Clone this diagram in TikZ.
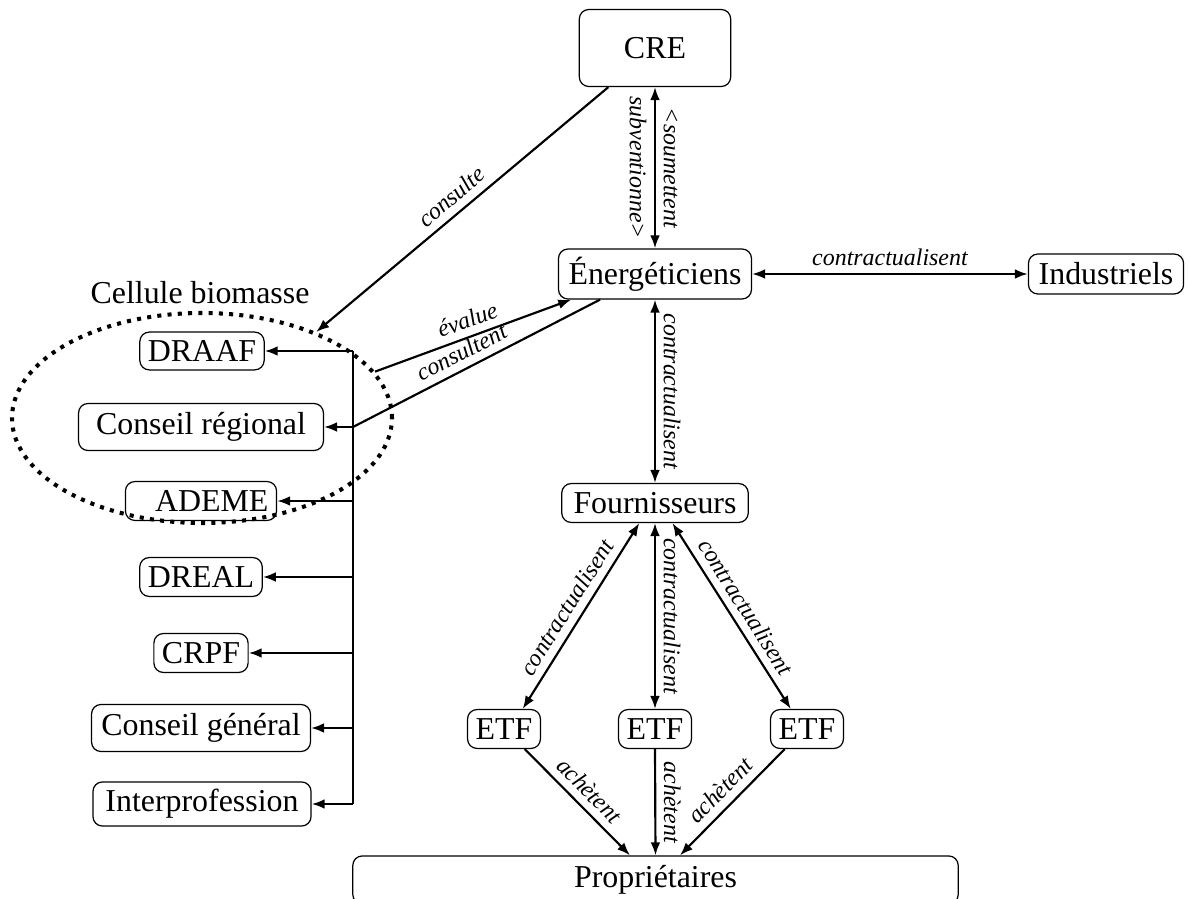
\documentclass[tikz,border=0pt]{standalone}
\usepackage{fontspec}
\setmainfont{Liberation Serif}[Scale=1.18]
\usetikzlibrary{shapes.geometric,calc,arrows.meta}
\tikzset{
  box/.style={draw, rounded corners=3.5pt, inner xsep=3pt, inner ysep=2pt, minimum height=14.4pt, line width=0.45pt},
  lab/.style={font=\fontsize{7.5}{9}\selectfont\itshape, inner sep=2.8pt},
  conn/.style={line width=0.8pt},
  tip/.style={>={Latex[length=4.8pt,width=3.6pt]}},
  dots/.style={draw, ellipse, line width=1.5pt, dash pattern=on 1.5pt off 2.3pt}
}
\begin{document}
\begin{tikzpicture}[x=0.37pt, y=-0.37pt, tip]
\useasboundingbox (0,0) rectangle (1189,899);
% main column
\node[box, minimum width=56pt, minimum height=28.5pt] (cre) at (655,48) {CRE};
\node[box, minimum width=71.4pt, minimum height=18.5pt] (ener) at (655,274) {Énergéticiens};
\node[box, minimum width=57.4pt, minimum height=14.8pt] (ind) at (1106,274) {Industriels};
\node[box, minimum width=69pt] (four) at (655,503) {Fournisseurs};
\node[box, minimum width=26.6pt, minimum height=14.4pt] (etf1) at (504,729) {ETF};
\node[box, minimum width=26.6pt, minimum height=14.4pt] (etf2) at (655,729) {ETF};
\node[box, minimum width=26.6pt, minimum height=14.4pt] (etf3) at (807,729) {ETF};
\node[box, minimum width=224pt, minimum height=17.8pt] (prop) at (655.5,880) {Propriétaires};
% left column
\node (celltitle) at (200,293) {Cellule biomasse};
\node[dots, minimum width=140.6pt, minimum height=77.7pt] (cell) at (202,418) {};
\node[box, minimum width=44.4pt, minimum height=14pt] (draaf) at (202,351) {DRAAF};
\node[box, minimum width=90.6pt, minimum height=17.4pt] (creg) at (201,427) {Conseil régional};
\node[box, text width=49.9pt, align=right, minimum height=14.4pt] (ademe) at (201,501) {ADEME};
\node[box, minimum width=43.7pt] (dreal) at (201,577) {DREAL};
\node[box, minimum width=34.8pt] (crpf) at (201,653) {CRPF};
\node[box, minimum width=81pt, minimum height=17.4pt] (cgen) at (201,728) {Conseil général};
\node[box, minimum width=80.7pt, minimum height=16.3pt] (interp) at (202,804) {Interprofession};
% bus
\coordinate (bus) at (353,0);
\draw[conn] (draaf.east -| bus) -- (interp.east -| bus);
\foreach \n in {draaf,creg,ademe,dreal,crpf,cgen,interp}
  \draw[conn,->] (\n.east -| bus) -- (\n.east);
% connectors
\draw[conn,->] (cre.220) -- node[lab, sloped, above] {consulte} (cell.37);
\draw[conn,->] (cell.15) -- node[lab, sloped, above] {évalue} (ener.197);
\draw[conn] (creg.east -| bus) -- node[lab, sloped, above, pos=0.47] {consultent} (ener.205);
\draw[conn,<->] (cre.south) --
  node[lab, rotate=-90, anchor=north] {subventionne>}
  node[lab, rotate=-90, anchor=south] {<soumettent} (ener.north);
\draw[conn,<->] (ener.east) -- node[lab, above] {contractualisent} (ind.west);
\draw[conn,<->] (ener.south) -- node[lab, rotate=-90, anchor=south] {contractualisent} (four.north);
\draw[conn,<->] (four.232) -- node[lab, sloped, above] {contractualisent} (etf1.47);
\draw[conn,<->] (four.south) -- node[lab, rotate=-90, anchor=south] {contractualisent} (etf2.north);
\draw[conn,<->] (four.-49) -- node[lab, sloped, above] {contractualisent} (etf3.129);
\draw[conn,->] (etf1.-44) -- node[lab, sloped, above] {achètent} ($(prop.north)+(-25.5,0)$);
\draw[conn,->] (etf2.south) -- node[lab, rotate=-90, anchor=south] {achètent} (prop.north);
\draw[conn,->] (etf3.222) -- node[lab, sloped, above] {achètent} ($(prop.north)+(24.5,0)$);
\end{tikzpicture}
\end{document}
